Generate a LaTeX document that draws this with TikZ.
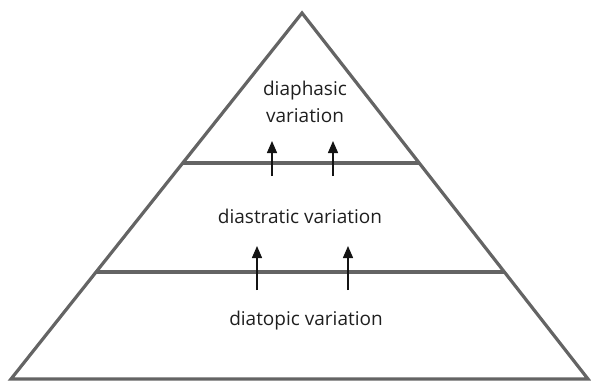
\documentclass[tikz,border=0pt]{standalone}
\usepackage{fontspec}
\setmainfont{Open Sans}
\usepackage{tikz}
\usetikzlibrary{arrows.meta, positioning, calc}
\definecolor{pyramidgray}{RGB}{100, 100, 100}
\definecolor{arrowblack}{RGB}{20, 20, 20}

\begin{document}
\begin{tikzpicture}[x=1pt, y=-1pt,
    tier/.style={draw=pyramidgray, line width=3.2pt},
    label/.style={font=\fontsize{19}{27}\selectfont, text=black!88, align=center},
    up/.style={draw=arrowblack, line width=1.4pt, -{Triangle[length=12pt, width=10pt]}}]
    \useasboundingbox (0,0) rectangle (591,381);

    \coordinate (apex) at (302,13);
    \coordinate (baseL) at (11,379);
    \coordinate (baseR) at (588,379);
    \draw[tier, line join=miter] (apex) -- (baseL) -- (baseR) -- cycle;

    % tier borders
    \coordinate (midL) at ($(apex)!150/366!(baseL)$);
    \coordinate (midR) at ($(apex)!150/366!(baseR)$);
    \coordinate (lowL) at ($(apex)!259/366!(baseL)$);
    \coordinate (lowR) at ($(apex)!259/366!(baseR)$);
    \draw[tier] (midL) -- (midR);
    \draw[tier] (lowL) -- (lowR);

    \node[label] (diaphasic) at (305,102) {diaphasic\\variation};
    \node[label] (diastratic) at (300,216) {diastratic variation};
    \node[label] (diatopic) at (306,321) {diatopic variation};

    % arrows across the borders
    \coordinate (a1s) at (272,176); \coordinate (a1e) at (272,141);
    \coordinate (a2s) at (333,176); \coordinate (a2e) at (333,141);
    \coordinate (b1s) at (257,290); \coordinate (b1e) at (257,246);
    \coordinate (b2s) at (348,290); \coordinate (b2e) at (348,246);
    \draw[up] (a1s) -- (a1e);
    \draw[up] (a2s) -- (a2e);
    \draw[up] (b1s) -- (b1e);
    \draw[up] (b2s) -- (b2e);
\end{tikzpicture}
\end{document}
